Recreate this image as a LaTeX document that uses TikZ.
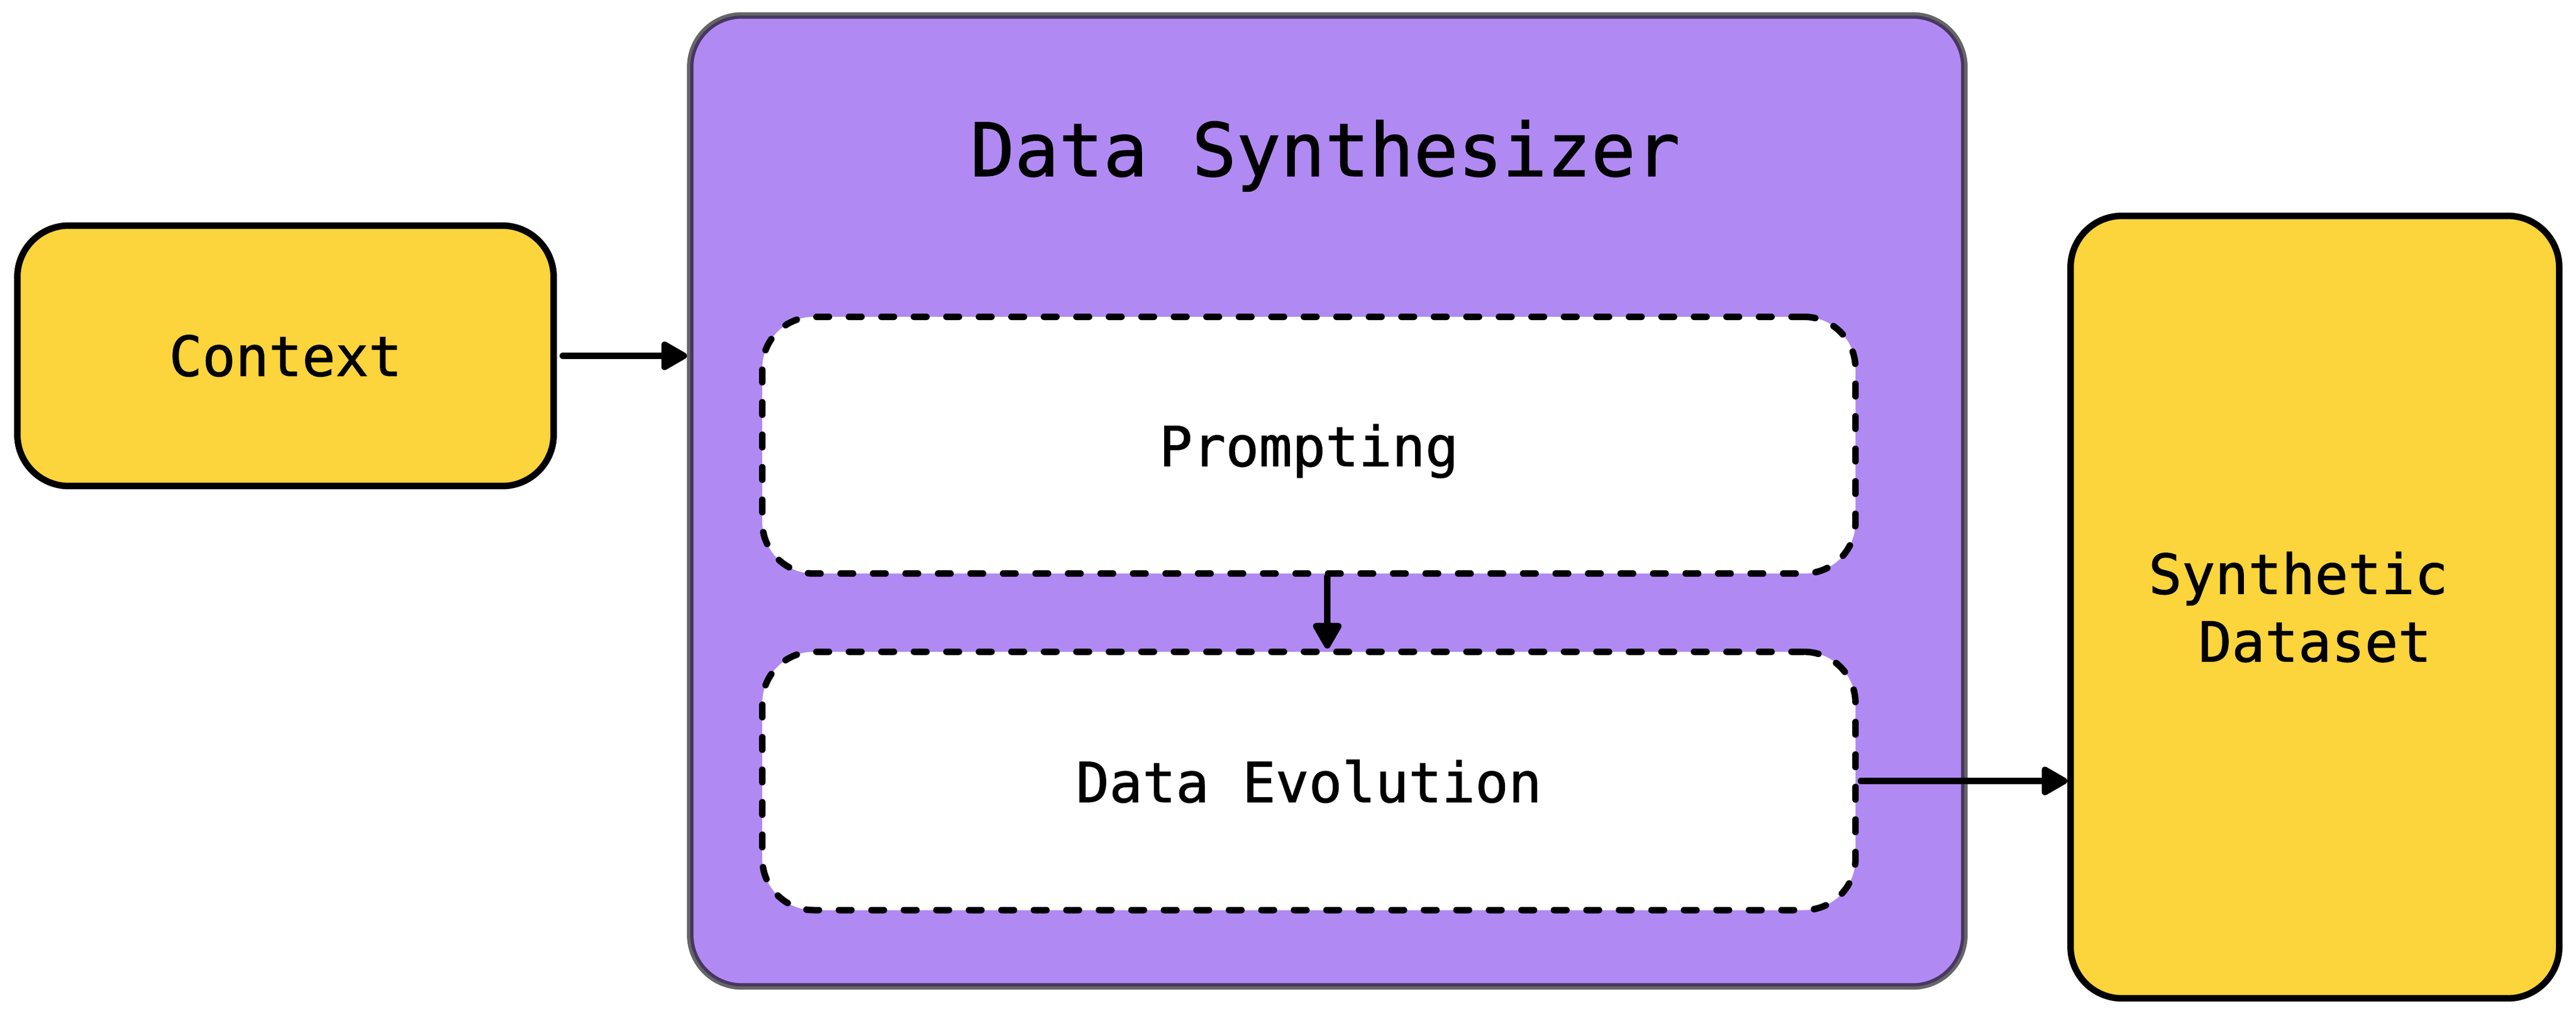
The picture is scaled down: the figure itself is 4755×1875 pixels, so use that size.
\documentclass[tikz,border=0pt]{standalone}
\usepackage{fontspec}
\setmonofont{DejaVu Sans Mono}[FakeBold=1.2]
\usepackage{xcolor}
\usetikzlibrary{arrows.meta}
\definecolor{SynthPurple}{rgb}{0.69, 0.54, 0.95}
\definecolor{BoxYellow}{rgb}{0.99, 0.83, 0.23}

\tikzset{
	yellowbox/.style={draw=black, line width=1.2pt, fill=BoxYellow, rounded corners=9.5pt, inner sep=0pt},
	dashbox/.style={draw=black, line width=1.2pt, fill=white, rounded corners=9.5pt, inner sep=0pt, text depth=0pt, dash pattern={on 2.3pt off 3.7pt}, line cap=round},
	flow/.style={draw=black, line width=1.2pt, line cap=round, -{Triangle[length=5.4pt,width=5.8pt,round]}}
}

\begin{document}
\begin{tikzpicture}[x=0.1pt,y=0.1pt,yscale=-1,xscale=1, font=\ttfamily\fontsize{10.2}{12.5}\selectfont]
	\useasboundingbox (0,0) rectangle (4755,1875);

	%Rounded Rect [id:synth]
	\node (synth) at (2450,925) [draw=black, draw opacity=0.6, line width=1.2pt, fill=SynthPurple, rounded corners=9.5pt, inner sep=0pt, minimum width=235.2pt, minimum height=179.3pt] {};
	%Rounded Rect [id:ctx]
	\node (ctx) at (527,657) [yellowbox, minimum width=99pt, minimum height=48.1pt] {Context};
	%Rounded Rect [id:prompt]
	\node (prompt) at (2416,822) [dashbox, minimum width=201.8pt, minimum height=47.4pt] {Prompting};
	%Rounded Rect [id:evol]
	\node (evol) at (2416,1442) [dashbox, minimum width=201.8pt, minimum height=47.7pt] {Data Evolution};
	%Rounded Rect [id:dataset]
	\node (dataset) at (4273,1121) [yellowbox, minimum width=90.2pt, minimum height=144.5pt, align=center] {Synthetic\hphantom{x}\\Dataset};

	% Text Node
	\node (title) at (2446,325) [anchor=base, inner sep=0pt, font=\ttfamily\fontsize{13.6}{16}\selectfont] {Data Synthesizer};

	%Straight Lines [id:ctx-synth]
	\draw [flow] ([xshift=1.1pt]ctx.east) -- (ctx.east -| synth.west);
	%Straight Lines [id:prompt-evol]
	\draw [flow] (prompt.south -| synth) -- (evol.north -| synth);
	%Straight Lines [id:evol-dataset]
	\draw [flow] ([xshift=0.4pt]evol.east) -- (evol.east -| dataset.west);

\end{tikzpicture}
\end{document}
